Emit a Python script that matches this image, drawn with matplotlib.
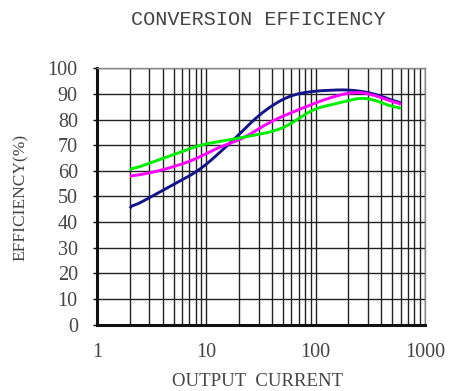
import matplotlib.pyplot as plt
import numpy as np
from matplotlib.ticker import FixedLocator, NullFormatter

# efficiency curves (output current on log scale)
cur_blue = [2, 4, 8.8, 17.8, 31, 55, 90, 200, 350, 600]
eff_blue = [45.4, 52.4, 60.4, 72.1, 82.4, 89.2, 91.1, 91.8, 90.2, 86.2]

cur_pink = [2, 3.5, 7.1, 14.4, 20.5, 38.7, 63.6, 120, 210, 300, 600]
eff_pink = [57.8, 59.7, 63.6, 70.1, 72.0, 79.3, 83.2, 87.9, 90.8, 90.5, 85.8]

cur_green = [2, 3.8, 8.8, 17.8, 41.7, 59, 90, 210, 300, 400, 600]
eff_green = [60.3, 64.5, 70.2, 72.4, 75.4, 78.0, 83.9, 87.7, 89.0, 86.4, 84.2]

x_ticks = [1, 10, 100, 1000]
y_ticks = list(range(0, 101, 10))

fig = plt.figure(figsize=(4.5, 3.91), dpi=100)
ax = fig.add_axes([0.216, 0.170, 0.728, 0.655])

def smooth(xs, ys, n=200):
    # interpolate in log-x, then a moving average to round the corners
    lx = np.log10(xs)
    t = np.linspace(lx[0], lx[-1], n)
    yy = np.interp(t, lx, ys)
    k = 9
    pad = np.pad(yy, k, mode="edge")
    yy = np.convolve(pad, np.ones(2 * k + 1) / (2 * k + 1), mode="same")[k:-k]
    yy[0], yy[-1] = ys[0], ys[-1]
    return 10 ** t, yy

for xs, ys, c in [(cur_blue, eff_blue, "#14148a"),
                  (cur_pink, eff_pink, "#ff00ff"),
                  (cur_green, eff_green, "#00ee00")]:
    sx, sy = smooth(xs, ys)
    ax.plot(sx, sy, color=c, lw=2.1, solid_capstyle="butt", zorder=3)

ax.set_xscale("log")
ax.set_xlim(1, 1000)
ax.set_ylim(0, 100)

minor = [m * 10 ** d for d in range(3) for m in range(2, 10)]
ax.xaxis.set_minor_locator(FixedLocator(minor))
ax.xaxis.set_minor_formatter(NullFormatter())
ax.set_xticks(x_ticks)
ax.set_xticklabels([str(v) for v in x_ticks])
ax.set_yticks(y_ticks)
ax.set_yticklabels([str(v) for v in y_ticks])

ax.grid(True, which="both", axis="x", color="#222222", lw=1.0)
ax.grid(True, which="major", axis="y", color="#222222", lw=1.0)
ax.set_axisbelow(True)

for s in ["top", "right"]:
    ax.spines[s].set_color("#888888")
    ax.spines[s].set_linewidth(1.0)
for s in ["left", "bottom"]:
    ax.spines[s].set_color("#111111")
    ax.spines[s].set_linewidth(2.2)

ax.tick_params(axis="y", which="major", length=3, width=1, pad=11,
               labelsize=14.5)
ax.tick_params(axis="x", which="both", length=0, pad=13, labelsize=14.5)
for lab in ax.get_xticklabels() + ax.get_yticklabels():
    lab.set_family("Liberation Serif")
    lab.set_color("#444444")

fig.text(0.574, 0.949, "CONVERSION EFFICIENCY", family="Liberation Mono",
         fontsize=14.5, color="#444444", ha="center", va="center")
fig.text(0.572, 0.025, "OUTPUT  CURRENT", family="Liberation Serif",
         fontsize=13.5, color="#444444", ha="center", va="center")
fig.text(0.047, 0.496, "EFFICIENCY(%)", family="Liberation Serif",
         fontsize=12.5, color="#444444", ha="center", va="center",
         rotation=90)

fig.savefig("out.png", dpi=100)
